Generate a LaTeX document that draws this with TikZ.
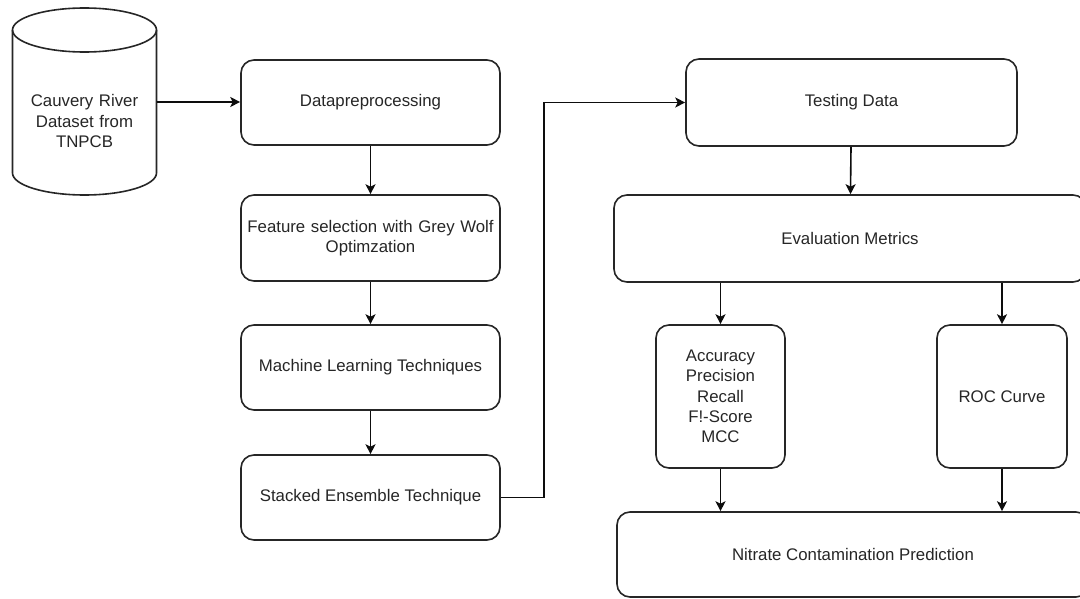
\documentclass[tikz,border=0pt]{standalone}
\usepackage{fontspec}
\setmainfont{Liberation Sans}
\usetikzlibrary{arrows.meta}
\begin{document}
\begin{tikzpicture}[x=1pt,y=-1pt,
  line width=1.6pt, draw=black!85,
  box/.style={draw=black!85, rounded corners=13pt, align=center, inner sep=0pt,
    font=\fontsize{16.8}{20.3}\selectfont, text=black!85},
  arr/.style={-{Stealth[length=10pt,width=10pt,inset=2.5pt]}, draw=black!95}]
\useasboundingbox (0,0) rectangle (1080,599);
\clip (0,0) rectangle (1080,599);
% cylinder
\draw[fill=white] (12.5,30) -- (12.5,173) arc[start angle=180,end angle=360,x radius=72,y radius=-22] -- (156.5,30);
\draw (84.5,30) ellipse [x radius=72, y radius=22];
\node[box, draw=none, text width=140pt] (ds) at (84.5,121) {Cauvery River\\Dataset from\\TNPCB};
\coordinate (dsout) at (156.5,102);
% left column
\node[box, minimum width=259pt, minimum height=85pt] (pre) at (370.5,102.5) {Datapreprocessing};
\node[box, minimum width=259pt, minimum height=86pt, text width=259pt] (fs) at (370.5,238) {Feature selection with Grey Wolf\\Optimzation};
\node[box, minimum width=259pt, minimum height=85pt] (ml) at (370.5,367.5) {Machine Learning Techniques};
\node[box, minimum width=259pt, minimum height=85pt] (st) at (370.5,497.5) {Stacked Ensemble Technique};
% right part
\node[box, minimum width=331pt, minimum height=87pt] (td) at (851.5,102.5) {Testing Data};
\node[box, minimum width=472pt, minimum height=87pt] (ev) at (850,238.5) {Evaluation Metrics};
\node[box, minimum width=129pt, minimum height=143pt] (acc) at (720.5,396.5) {Accuracy\\Precision\\Recall\\F!-Score\\MCC};
\node[box, minimum width=130pt, minimum height=143pt] (roc) at (1002,396.5) {ROC Curve};
\node[box, minimum width=472pt, minimum height=85pt] (nit) at (853,554.5) {Nitrate Contamination Prediction};
% connectors
\draw[arr] (dsout) -- (pre.west |- dsout);
\draw[arr] (pre) -- (fs);
\draw[arr] (fs) -- (ml);
\draw[arr] (ml) -- (st);
\draw[arr] (st.east) -- ++(43,0) |- (td.west);
\draw[arr] (td) -- (ev);
\draw[arr] (ev.south -| acc.north) -- (acc.north);
\draw[arr] (ev.south -| roc.north) -- (roc.north);
\draw[arr] (acc.south) -- (nit.north -| acc.south);
\draw[arr] (roc.south) -- (nit.north -| roc.south);
\end{tikzpicture}
\end{document}
